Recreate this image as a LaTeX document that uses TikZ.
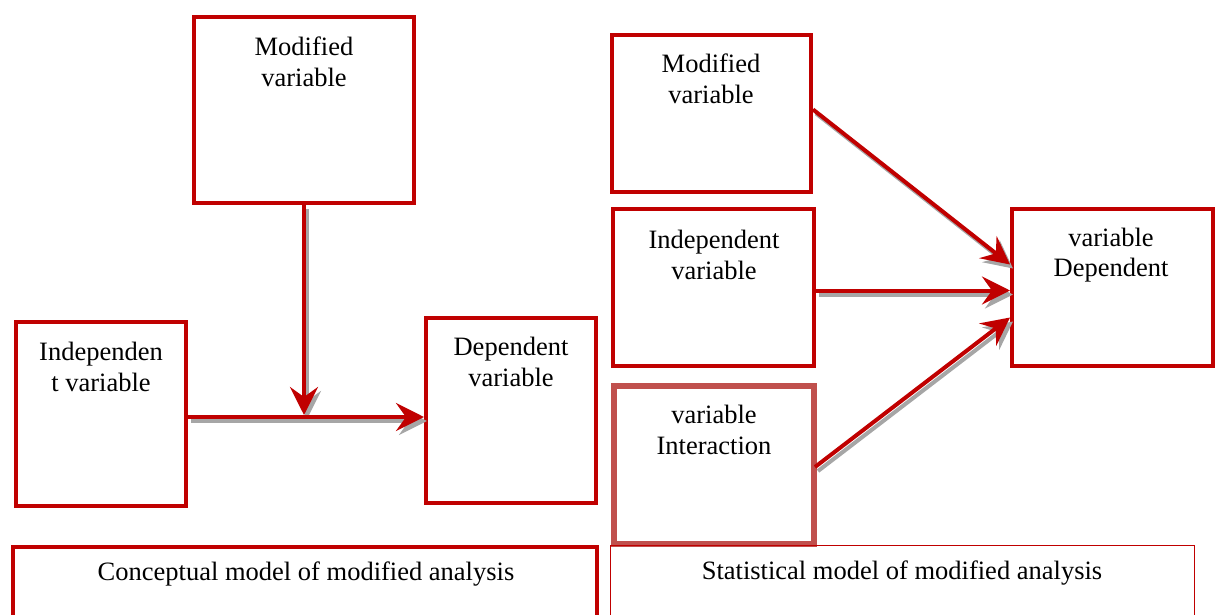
\documentclass[tikz,border=0pt]{standalone}
\usepackage{fontspec}
\setmainfont{Liberation Serif}
\usetikzlibrary{arrows.meta,calc}
\definecolor{boxred}{HTML}{C00000}
\definecolor{softred}{HTML}{C0504D}
\definecolor{shade}{HTML}{A6A6A6}
\begin{document}
\begin{tikzpicture}[x=1pt,y=-1pt,
  box/.style={draw=boxred,line width=4pt,rectangle,inner sep=0pt},
  txt/.style={align=center,font=\fontsize{26.5}{30.5}\selectfont,anchor=center,inner sep=0pt},
  tip/.style={-{Stealth[length=28pt,width=28pt,inset=10pt]}},
  link/.style={draw=boxred,line width=4pt,tip},
  linkshade/.style={draw=shade,line width=4pt,tip,
    transform canvas={shift={(3,4)}}}]
\useasboundingbox (0,0) rectangle (1221,615);

% conceptual model
\node[box,minimum width=220pt,minimum height=186pt] (lmod) at (304,110) {};
\node[box,minimum width=170pt,minimum height=184pt] (lind) at (101,414) {};
\node[box,minimum width=170pt,minimum height=185pt] (ldep) at (511,410.5) {};
\node[txt] (lmodt) at (304,62) {Modified\\variable};
\node[txt] (lindt) at (101,367) {Independen\\t variable};
\node[txt] (ldept) at (511,362) {Dependent\\variable};
\coordinate (hj) at (304,417);

\draw[linkshade] (lmod.south) -- ($(hj)+(0,-2)$);
\draw[linkshade] (lind.east |- hj) -- (ldep.west |- hj);
\draw[link] (lind.east |- hj) -- (ldep.west |- hj);
\draw[link] (lmod.south) -- ($(hj)+(0,-2)$);

% statistical model
\node[box,minimum width=199pt,minimum height=157pt] (rmod) at (711.5,113.5) {};
\node[box,minimum width=201pt,minimum height=157pt] (rind) at (713.5,287.5) {};
\node[box,draw=softred,line width=6pt,minimum width=200pt,minimum height=158pt] (rint) at (714,465) {};
\node[box,minimum width=201pt,minimum height=157pt] (rdep) at (1112.5,287.5) {};
\node[txt] (rmodt) at (711,79) {Modified\\variable};
\node[txt] (rindt) at (714,255) {Independent\\variable};
\node[txt] (rintt) at (714,430) {variable\\Interaction};
\node[txt] (rdept) at (1111,255) {variable\\Dependent};

\coordinate (d1) at ($(rdep.west)+(0,-23)$);
\coordinate (d2) at ($(rdep.west)+(0,3)$);
\coordinate (d3) at ($(rdep.west)+(0,30)$);
\coordinate (s1) at ($(rmod.east)+(0,-4)$);
\coordinate (s2) at (rind.east |- d2);
\coordinate (s3) at ($(rint.east)+(-2,2)$);
\draw[linkshade] (s1) -- (d1);
\draw[linkshade] (s2) -- (d2);
\draw[linkshade] (s3) -- (d3);
\draw[link] (s1) -- (d1);
\draw[link] (s2) -- (d2);
\draw[link] (s3) -- (d3);

% captions
\node[box,minimum width=584pt,minimum height=90pt] (capl) at (305,592) {};
\node[box,line width=1pt,minimum width=584pt,minimum height=90pt] (capr) at (902.5,590) {};
\node[txt] (caplt) at (306,574) {Conceptual model of modified analysis};
\node[txt] (caprt) at (902,573) {Statistical model of modified analysis};
\end{tikzpicture}
\end{document}
